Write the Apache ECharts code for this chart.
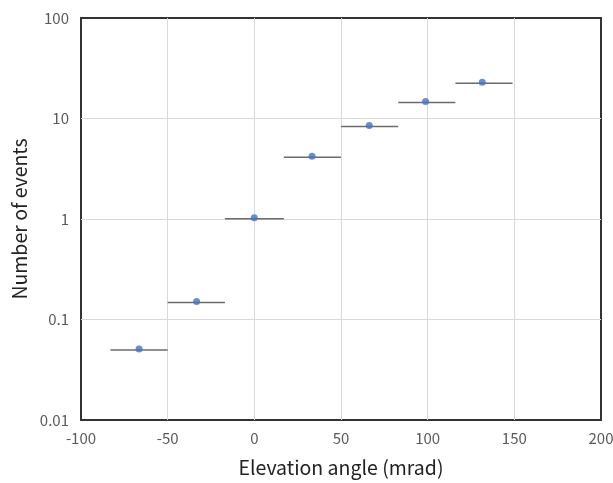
<!DOCTYPE html>
<html><head><meta charset="utf-8">
<script src="https://cdn.jsdelivr.net/npm/echarts@6/dist/echarts.min.js"></script>
<style>html,body{margin:0;padding:0;background:#fff}#c{width:613px;height:483px}</style>
</head><body><div id="c"></div>
<script>
const xCenters = [-66.5, -33.3, 0, 33.3, 66.3, 98.8, 131.5];
const xLow = [-83, -50, -17, 17, 50, 83, 116];
const xHigh = [-50, -17, 17, 50, 83, 116, 149];
const counts = [0.051, 0.151, 1.03, 4.2, 8.5, 14.8, 23];
const yTickLabels = ['0.01', '0.1', '1', '10', '100'];

const font = '"Noto Sans CJK JP", "Noto Sans", sans-serif';
const chart = echarts.init(document.getElementById('c'));
chart.setOption({
  animation: false,
  grid: { left: 81, right: 12, top: 18, bottom: 63, outerBoundsMode: 'none', containLabel: false, show: true, borderColor: '#333', borderWidth: 2, backgroundColor: 'transparent' },
  xAxis: {
    type: 'value', min: -100, max: 200, interval: 50,
    name: 'Elevation angle (mrad)', nameLocation: 'middle', nameGap: 38,
    nameTextStyle: { fontFamily: font, fontSize: 19.5, color: '#222' },
    axisLine: { show: false }, axisTick: { show: false },
    axisLabel: { fontFamily: font, fontSize: 15, color: '#595959', margin: 11 },
    splitLine: { show: true, showMinLine: false, showMaxLine: false, lineStyle: { color: '#d9d9d9', width: 1 } }
  },
  yAxis: {
    type: 'log', logBase: 10, min: 0.01, max: 100,
    name: 'Number of events', nameLocation: 'middle', nameGap: 49,
    nameTextStyle: { fontFamily: font, fontSize: 19.5, color: '#222' },
    axisLine: { show: false }, axisTick: { show: false },
    axisLabel: { fontFamily: font, fontSize: 15, color: '#595959', margin: 12,
      formatter: v => { const i = Math.round(Math.log10(v)) + 2; return yTickLabels[i] !== undefined ? yTickLabels[i] : ''; } },
    splitLine: { show: true, showMinLine: false, showMaxLine: false, lineStyle: { color: '#d9d9d9', width: 1 } }
  },
  series: [
    {
      type: 'custom',
      data: xCenters.map((x, i) => [xLow[i], xHigh[i], counts[i]]),
      renderItem: (params, api) => {
        const p1 = api.coord([api.value(0), api.value(2)]);
        const p2 = api.coord([api.value(1), api.value(2)]);
        return { type: 'line', shape: { x1: p1[0], y1: p1[1] + 1, x2: p2[0], y2: p2[1] + 1 }, style: { stroke: '#6b6b6b', lineWidth: 1.5 } };
      },
      z: 2
    },
    {
      type: 'scatter',
      data: xCenters.map((x, i) => [x, counts[i]]),
      symbol: 'circle', symbolSize: 7,
      itemStyle: { color: '#4472C4' },
      z: 3
    }
  ]
});
</script></body></html>
